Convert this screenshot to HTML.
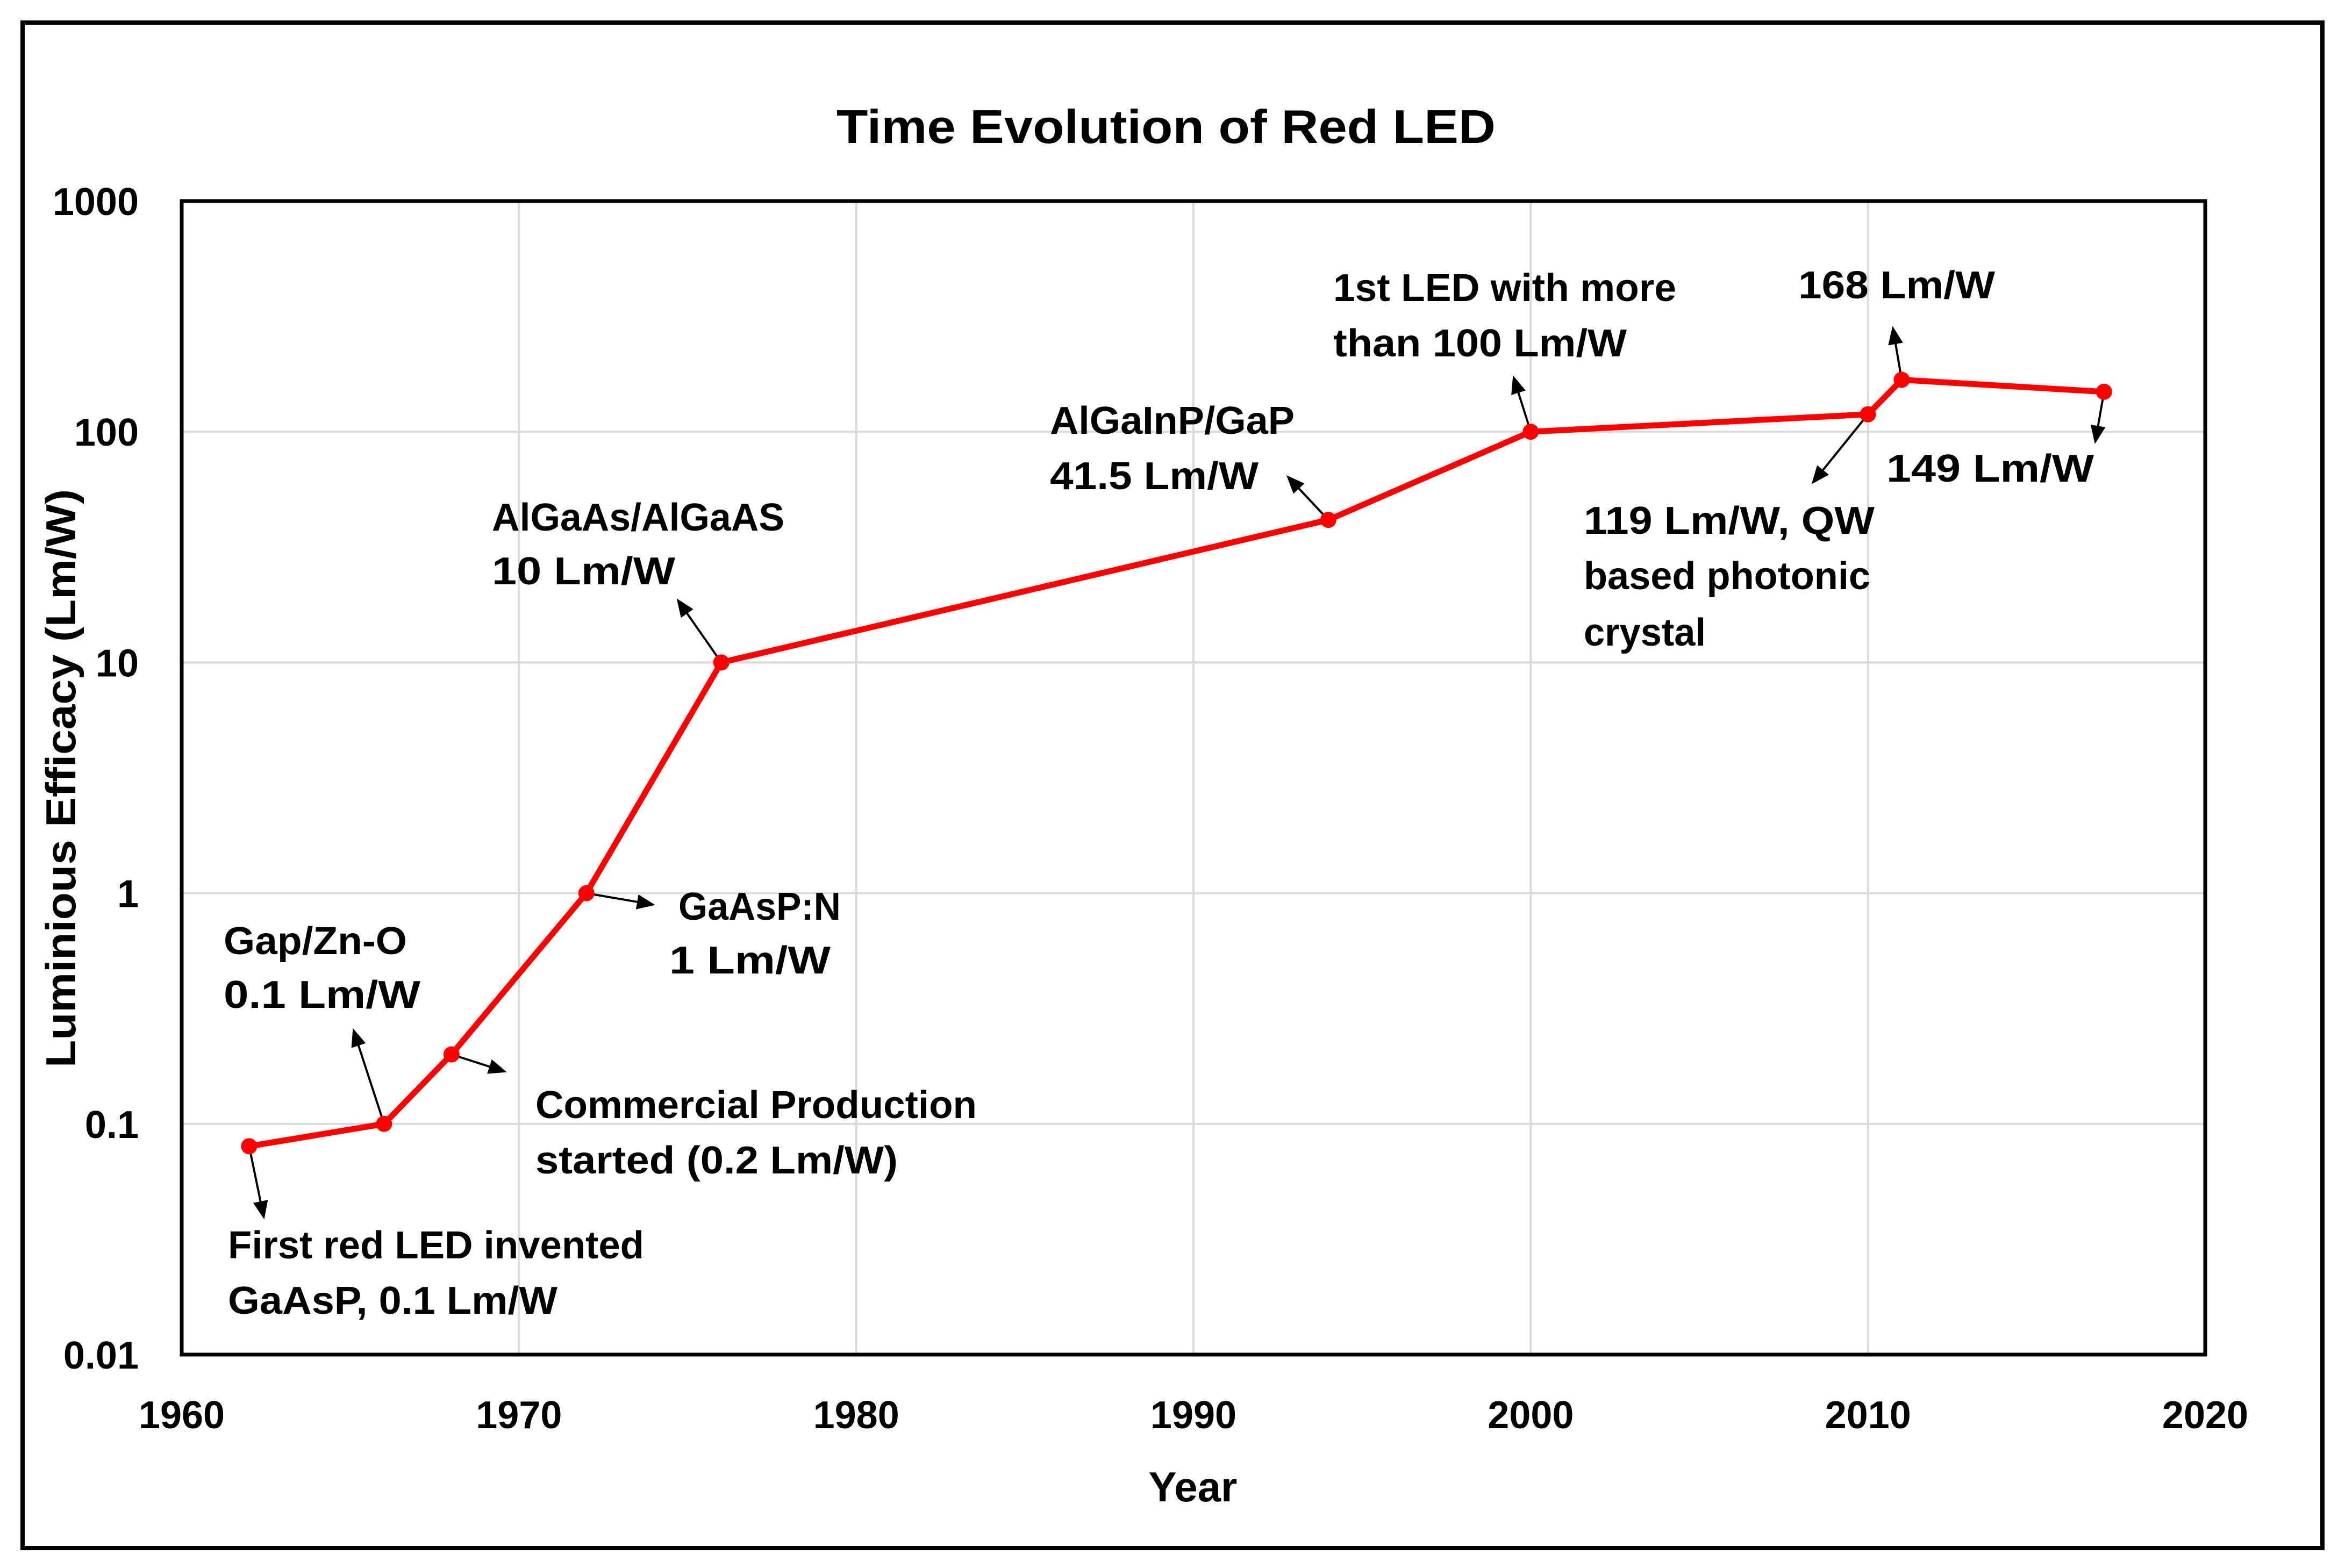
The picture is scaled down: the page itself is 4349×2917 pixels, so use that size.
<!DOCTYPE html>
<html><head><meta charset="utf-8"><style>
html,body{margin:0;padding:0;background:#fff;}
svg{display:block;font-family:"Liberation Sans",sans-serif;font-weight:bold;}
</style></head><body>
<svg id="chart" width="4349" height="2917" viewBox="0 0 4349 2917" xmlns="http://www.w3.org/2000/svg">
<rect x="0" y="0" width="4349" height="2917" fill="#fff"/>
<rect x="42" y="42" width="4278" height="2838" fill="none" stroke="#000" stroke-width="8"/>
<text x="2169" y="266" text-anchor="middle" font-size="88" textLength="1226" lengthAdjust="spacingAndGlyphs">Time Evolution of Red LED</text>
<g id="grid"></g>
<g id="ticks"></g>
<g id="annots"></g>
<g id="series"></g>
<rect x="338" y="374" width="3764" height="2146" fill="none" stroke="#000" stroke-width="7"/>
<text x="2219" y="2793" text-anchor="middle" font-size="78">Year</text>
<text transform="translate(140,1448) rotate(-90)" text-anchor="middle" font-size="78" textLength="1076" lengthAdjust="spacingAndGlyphs">Luminious Efficacy (Lm/W)</text>
</svg>
<script>
const years = [1962, 1966, 1968, 1972, 1976, 1994, 2000, 2010, 2011, 2017];
const efficacy = [0.08, 0.1, 0.2, 1, 10, 41.5, 100, 119, 168, 149];
const xTicks = [1960, 1970, 1980, 1990, 2000, 2010, 2020];
const yTicks = [0.01, 0.1, 1, 10, 100, 1000];
const yTickLabels = ["0.01", "0.1", "1", "10", "100", "1000"];

const NS = "http://www.w3.org/2000/svg";
const PL = 338, PR = 4102, PT = 374, PB = 2520;
function xS(v){ return PL + (v - 1960) / 60 * (PR - PL); }
function yS(v){ return PB - (Math.log10(v) + 2) / 5 * (PB - PT); }
function mk(tag, attrs, parent){
  const e = document.createElementNS(NS, tag);
  for (const k in attrs) e.setAttribute(k, attrs[k]);
  parent.appendChild(e);
  return e;
}
const grid = document.getElementById('grid');
const ticks = document.getElementById('ticks');
xTicks.forEach(t => {
  const l = mk('line', {x1:xS(t), x2:xS(t), y1:PT, y2:PB, stroke:'#d9d9d9', 'stroke-width':4}, grid);
  
  
  const tx = mk('text', {x:xS(t), y:2657, 'text-anchor':'middle', 'font-size':72}, ticks);
  tx.textContent = t;
  
  
});
yTicks.forEach((t, i) => {
  const l = mk('line', {x1:PL, x2:PR, y1:yS(t), y2:yS(t), stroke:'#d9d9d9', 'stroke-width':4}, grid);
  
  
  const tx = mk('text', {x:258, y:yS(t) + 26, 'text-anchor':'end', 'font-size':72}, ticks);
  tx.textContent = yTickLabels[i];
  
  
});

// annotations text
const annots = document.getElementById('annots');
const labels = [
  [416,1775,341,"Gap/Zn-O"],[416,1875,366,"0.1  Lm/W"],
  [1262,1711,302,"GaAsP:N"],[1245,1811,300,"1  Lm/W"],
  [996,2080,821,"Commercial Production"],[996,2183,674,"started (0.2 Lm/W)"],
  [424,2341,774,"First red LED invented"],[424,2444,613,"GaAsP, 0.1 Lm/W"],
  [915,987,544,"AlGaAs/AlGaAS"],[915,1087,341,"10  Lm/W"],
  [1953,807,455,"AlGaInP/GaP"],[1953,910,388,"41.5 Lm/W"],
  [2480,560,638,"1st LED with more"],[2480,663,546,"than 100 Lm/W"],
  [3345,555,366,"168 Lm/W"],
  [3509,896,386,"149  Lm/W"],
  [2946,993,541,"119 Lm/W, QW"],[2946,1096,533,"based photonic"],[2946,1201,227,"crystal"]
];
labels.forEach(a => {
  const t = mk('text', {x:a[0], y:a[1], 'font-size':72, textLength:a[2], lengthAdjust:'spacingAndGlyphs'}, annots);
  t.textContent = a[3];
  
  
});

// arrows: offset of arrow head relative to each data point (pixels)
const arrowDX = [28, -58, 103, 128, -83, -78, -33, -105, -17, -17];
const arrowDY = [136, -178, 33, 22, -119, -83, -105, 130, -100, 97];
const series = document.getElementById('series');
years.forEach((yr, i) => {
  const x0 = xS(yr), y0 = yS(efficacy[i]);
  const x1 = x0 + arrowDX[i], y1 = y0 + arrowDY[i];
  const len = Math.hypot(x1 - x0, y1 - y0), ux = (x1 - x0) / len, uy = (y1 - y0) / len;
  const hl = 34, hw = 14;
  const bx = x1 - ux * hl, by = y1 - uy * hl;
  const ln = mk('line', {x1:x0, y1:y0, x2:bx, y2:by, stroke:'#000', 'stroke-width':4}, annots);
  
  
  const hd = mk('polygon', {points:`${x1},${y1} ${bx - uy*hw},${by + ux*hw} ${bx + uy*hw},${by - ux*hw}`, fill:'#000'}, annots);
  
  
});

const pts = years.map((yr, i) => xS(yr) + ',' + yS(efficacy[i])).join(' ');
const line = mk('polyline', {points:pts, fill:'none', stroke:'#ff0000', 'stroke-width':11, 'stroke-linejoin':'round'}, series);


years.forEach((yr, i) => {
  const c = mk('circle', {cx:xS(yr), cy:yS(efficacy[i]), r:15, fill:'#ff0000'}, series);
  
  
});
</script>
</body></html>
